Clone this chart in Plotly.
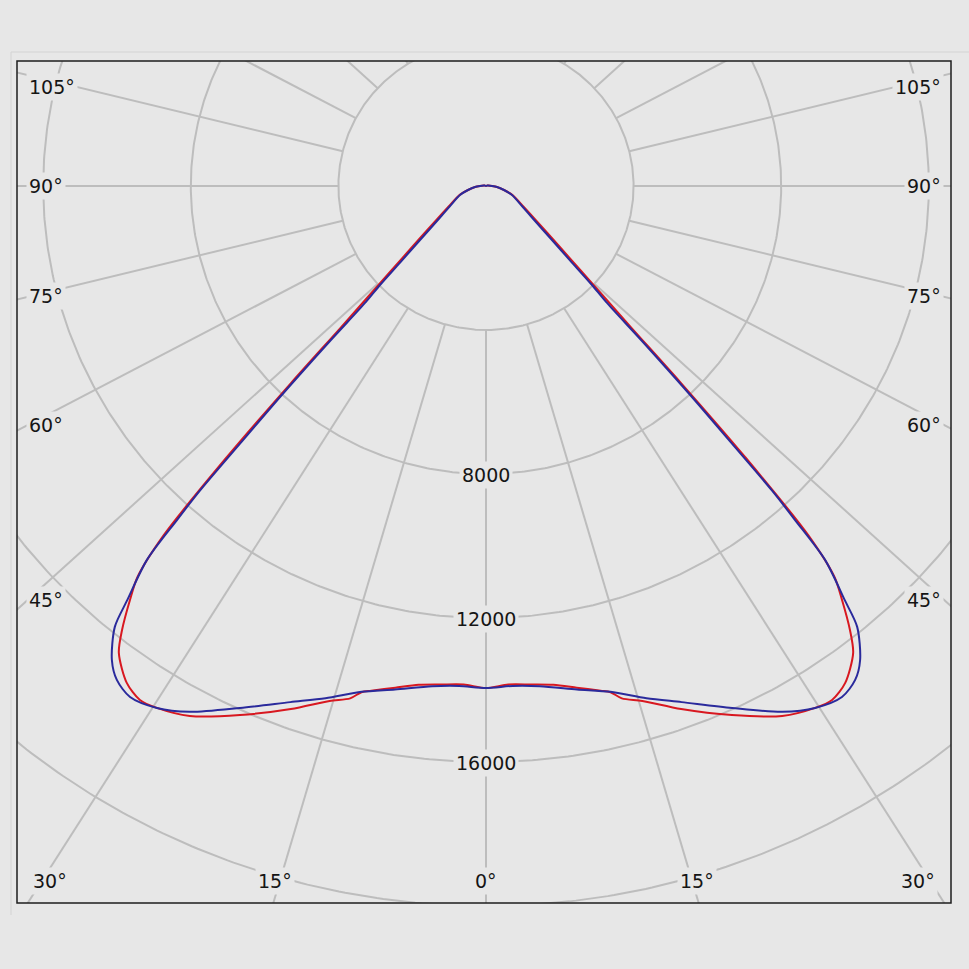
import numpy as np
import plotly.graph_objects as go

# ---------------- data ----------------
# luminous intensity (cd) versus gamma angle (deg, 0 = straight down)
gamma_blue = [0, 3, 6, 10, 13.5, 17, 20.3, 24.7, 28.8, 31.6, 34.2, 36.1, 37.6,
              39.4, 40.2, 41.5, 42.07, 42.5, 42.97, 43.6, 44.48, 45.3, 46.24,
              47.6, 50.0, 54.9, 60.3, 70.5, 77.2, 84.7, 90, 100, 120, 150, 180]
cd_blue = [13944, 13906, 13972, 14200, 14450, 14878, 15286, 15958, 16668,
           17022, 17162, 16980, 16617, 15848, 15063, 13867, 12500, 11461, 9781,
           8094, 6034, 4577, 3977, 3154, 2334, 1523, 1122, 748, 500, 299, 163,
           60, 20, 5, 0]

gamma_red = [0, 2.5, 5, 7.5, 10, 12.5, 13.5, 14.5, 16.5, 20, 24.4, 28.6, 31.6,
             33.3, 35.2, 37.5, 38.65, 40, 41, 42, 43, 44, 45, 46, 47.6, 50.0,
             54.9, 60.3, 70.5, 77.2, 84.7, 90, 100, 120, 150, 180]
cd_red = [13944, 13860, 13900, 13975, 14150, 14360, 14460, 14700, 14917,
          15460, 16136, 16767, 17022, 17083, 16889, 16345, 15792, 15011, 14400,
          13050, 10300, 7600, 5600, 4500, 3450, 2550, 1650, 1180, 770, 500,
          299, 163, 60, 20, 5, 0]

ring_values = [4000, 8000, 12000, 16000, 20000]
ring_labels = ["8000", "12000", "16000"]
spoke_angles = [0, 15, 30, 45, 60, 75, 90, 105, 120, 135, 150, 165, 180]
side_labels = ["105°", "90°", "75°", "60°", "45°"]
bottom_labels = ["30°", "15°", "0°", "15°", "30°"]

# ---------------- geometry of the picture ----------------
W = H = 969
FL, FT, FR, FB = 17, 61, 951, 903          # frame (px)
CX, CY = 486, 186                           # pole (px)
PY = 144 / 4000                             # px per cd, vertical
KX = 1.025                                  # horizontal stretch of the drawing
PX = PY * KX
SPOKE_K = 1.08                              # extra spread of the angle spokes

BG = "#e7e7e7"
GRID = "#bdbdbd"


def curve_xy(gam, val):
    g = np.radians(np.asarray(gam, float))
    v = np.asarray(val, float)
    xl = -(v * np.sin(g))[::-1]
    yl = -(v * np.cos(g))[::-1]
    xr = (v * np.sin(g))[1:]
    yr = -(v * np.cos(g))[1:]
    return np.concatenate([xl, xr]), np.concatenate([yl, yr])


fig = go.Figure()

# rings
t = np.radians(np.linspace(0, 360, 721))
rx, ry = [], []
for r in ring_values:
    rx += list(r * np.sin(t)) + [None]
    ry += list(r * np.cos(t)) + [None]
fig.add_trace(go.Scatter(x=rx, y=ry, mode="lines",
                         line=dict(color=GRID, width=2), hoverinfo="skip"))

# spokes (start on the innermost ring)
sx, sy = [], []
for a in spoke_angles:
    for sgn in ([1] if a in (0, 180) else [-1, 1]):
        ar = np.radians(a)
        dx, dy = sgn * SPOKE_K * np.sin(ar), -np.cos(ar)
        n = np.hypot(dx, dy)
        dx, dy = dx / n, dy / n
        r0, r1 = ring_values[0], 60000
        sx += [r0 * dx, r1 * dx, None]
        sy += [r0 * dy, r1 * dy, None]
fig.add_trace(go.Scatter(x=sx, y=sy, mode="lines",
                         line=dict(color=GRID, width=2), hoverinfo="skip"))

# intensity curves
xr_, yr_ = curve_xy(gamma_red, cd_red)
fig.add_trace(go.Scatter(x=xr_, y=yr_, mode="lines",
                         line=dict(color="#d81820", width=2, shape="spline",
                                   smoothing=0.8), name="C0-C180"))
xb_, yb_ = curve_xy(gamma_blue, cd_blue)
fig.add_trace(go.Scatter(x=xb_, y=yb_, mode="lines",
                         line=dict(color="#2a2a9c", width=2, shape="spline",
                                   smoothing=0.8), name="C90-C270"))

# ---------------- labels ----------------
def px2paper(x, y):
    return x / W, 1 - y / H

ann = []
font = dict(family="DejaVu Sans", size=19, color="#151515")


def add_label(text, x, y):
    px_, py_ = px2paper(x, y)
    ann.append(dict(text=text, x=px_, y=py_, xref="paper", yref="paper",
                    xanchor="center", yanchor="middle", showarrow=False,
                    font=font, bgcolor=BG, borderpad=2))


side_y = [87, 186, 296, 425, 600]
for txt, yy in zip(side_labels, side_y):
    add_label(txt, 46 if txt != "105°" else 52, yy)
    add_label(txt, 924 if txt != "105°" else 918, yy)

for txt, xx in zip(bottom_labels, [50, 275, 486, 697, 918]):
    add_label(txt, xx, 881)

for txt, r in zip(ring_labels, ring_values[1:4]):
    add_label(txt, CX, CY + r * PY + 1)

# frame and faint outer border of the picture
x0p, y0p = px2paper(FL, FB)
x1p, y1p = px2paper(FR, FT)
shapes = [
    dict(type="line", xref="paper", yref="paper", x0=11 / W, x1=11 / W,
         y0=1 - 52 / H, y1=1 - 915 / H, line=dict(color="#d3d3d3", width=1)),
    dict(type="line", xref="paper", yref="paper", x0=11 / W, x1=1,
         y0=1 - 52 / H, y1=1 - 52 / H, line=dict(color="#d3d3d3", width=1)),
    dict(type="rect", xref="paper", yref="paper", x0=x0p, x1=x1p,
         y0=y0p, y1=y1p, line=dict(color="#1e1e1e", width=1.5),
         fillcolor="rgba(0,0,0,0)", layer="above"),
]

axis_common = dict(showgrid=False, zeroline=False, showticklabels=False,
                   ticks="", showline=False, fixedrange=True)

fig.update_layout(
    width=W, height=H, margin=dict(l=0, r=0, t=0, b=0),
    paper_bgcolor=BG, plot_bgcolor=BG, showlegend=False,
    xaxis=dict(domain=[FL / W, FR / W],
               range=[(FL - CX) / PX, (FR - CX) / PX], **axis_common),
    yaxis=dict(domain=[1 - FB / H, 1 - FT / H],
               range=[-(FB - CY) / PY, (CY - FT) / PY], **axis_common),
    annotations=ann, shapes=shapes,
)

fig.write_html("out.html",
               config={"displayModeBar": False, "staticPlot": True},
               post_script="document.documentElement.style.margin='0px';"
                           "document.body.style.margin='0px';"
                           "document.body.style.overflow='hidden';"
                           "document.documentElement.style.overflow='hidden';"
                           "document.body.style.background='" + BG + "';")
